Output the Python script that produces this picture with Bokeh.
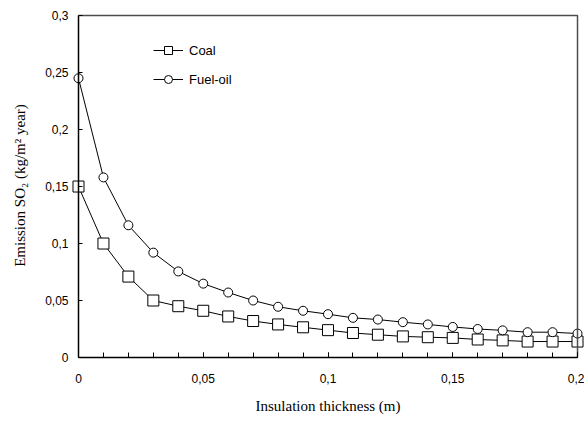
from bokeh.plotting import figure
from bokeh.models import Range1d, FixedTicker, LinearAxis
from bokeh.embed import file_html
from bokeh.resources import INLINE

thickness = [0.00, 0.01, 0.02, 0.03, 0.04, 0.05, 0.06, 0.07, 0.08, 0.09, 0.10,
             0.11, 0.12, 0.13, 0.14, 0.15, 0.16, 0.17, 0.18, 0.19, 0.20]
coal = [0.150, 0.100, 0.071, 0.050, 0.045, 0.041, 0.036, 0.032, 0.029, 0.0265, 0.024,
        0.0215, 0.020, 0.0185, 0.0178, 0.0172, 0.0158, 0.015, 0.014, 0.014, 0.014]
fuel_oil = [0.245, 0.158, 0.116, 0.092, 0.0755, 0.0648, 0.057, 0.050, 0.0445, 0.041, 0.038,
            0.0348, 0.0333, 0.031, 0.029, 0.0268, 0.025, 0.0238, 0.0222, 0.0222, 0.021]

x_ticks = [0, 0.05, 0.1, 0.15, 0.2]
x_tick_labels = ["0", "0,05", "0,1", "0,15", "0,2"]
y_ticks = [0, 0.05, 0.1, 0.15, 0.2, 0.25, 0.3]
y_tick_labels = ["0", "0,05", "0,1", "0,15", "0,2", "0,25", "0,3"]
x_minor = [i / 100 for i in range(21)]

x_min, x_max = 0.0, 0.2
y_min, y_max = 0.0, 0.3
x_pad = 0.0028   # room so that edge markers are not clipped
y_pad = 0.0018   # room so that the top border is not clipped

p = figure(width=584, height=417, output_backend="svg", toolbar_location=None,
           x_range=Range1d(x_min - x_pad, x_max + x_pad),
           y_range=Range1d(y_min, y_max + y_pad),
           min_border_left=71, min_border_right=0, min_border_top=13, min_border_bottom=60)
p.xgrid.visible = False
p.ygrid.visible = False
p.outline_line_color = None

p.line(thickness, coal, line_color="black", line_width=1, legend_label="Coal")
p.scatter(thickness, coal, marker="square", size=11, fill_color="white",
          line_color="black", line_width=1, legend_label="Coal")
p.line(thickness, fuel_oil, line_color="black", line_width=1, legend_label="Fuel-oil")
p.scatter(thickness, fuel_oil, marker="circle", size=9, fill_color="white",
          line_color="black", line_width=1, legend_label="Fuel-oil")

# top and right borders of the plot box
p.line(x=[x_min, x_max, x_max], y=[y_max, y_max, y_min],
       line_color="#4d4d4d", line_width=1.5)

# x axis
xa = p.xaxis[0]
xa.bounds = (x_min, x_max)
xa.ticker = FixedTicker(ticks=x_ticks, minor_ticks=x_minor)
xa.major_label_overrides = {t: l for t, l in zip(x_ticks, x_tick_labels)}
xa.major_tick_in = 5
xa.major_tick_out = 0
xa.minor_tick_in = 5
xa.minor_tick_out = 0
xa.major_label_standoff = 16
xa.axis_label = "Insulation thickness (m)"
xa.axis_label_standoff = 12
xa.axis_line_color = "black"
xa.axis_line_width = 1.5
xa.major_tick_line_color = "black"
xa.minor_tick_line_color = "black"

# y axis: labels and title (outside the frame)
ya = p.yaxis[0]
ya.ticker = FixedTicker(ticks=y_ticks, minor_ticks=[])
ya.major_label_overrides = {t: l for t, l in zip(y_ticks, y_tick_labels)}
ya.major_tick_in = 0
ya.major_tick_out = 0
ya.major_tick_line_color = None
ya.minor_tick_line_color = None
ya.axis_line_color = None
ya.major_label_standoff = 3
ya.axis_label = "Emission SO\u2082 (kg/m\u00b2 year)"
ya.axis_label_standoff = 14

for ax in (xa, ya):
    ax.major_label_text_font = "Liberation Sans"
    ax.major_label_text_font_size = "12px"
    ax.major_label_text_color = "black"
    ax.axis_label_text_font = "Liberation Serif"
    ax.axis_label_text_font_size = "15px"
    ax.axis_label_text_font_style = "normal"
    ax.axis_label_text_color = "black"

# y axis line and inward ticks at x = 0
ya_line = LinearAxis(fixed_location=x_min, bounds=(y_min, y_max),
                     ticker=FixedTicker(ticks=y_ticks, minor_ticks=[]),
                     major_label_overrides={t: "" for t in y_ticks},
                     major_label_standoff=0,
                     major_tick_in=4, major_tick_out=0,
                     major_tick_line_color="black", minor_tick_line_color=None,
                     axis_line_color="black", axis_line_width=1.5)
p.add_layout(ya_line, "left")

lg = p.legend[0]
lg.border_line_color = None
lg.background_fill_alpha = 0
lg.margin = 0
lg.padding = 0
lg.spacing = 9
lg.glyph_width = 30
lg.glyph_height = 20
lg.label_height = 20
lg.label_standoff = 6
lg.label_text_font = "Liberation Sans"
lg.label_text_font_size = "13px"
lg.label_text_color = "black"
lg.location = (82, 268)

open("out.html", "w").write(file_html(p, INLINE))
